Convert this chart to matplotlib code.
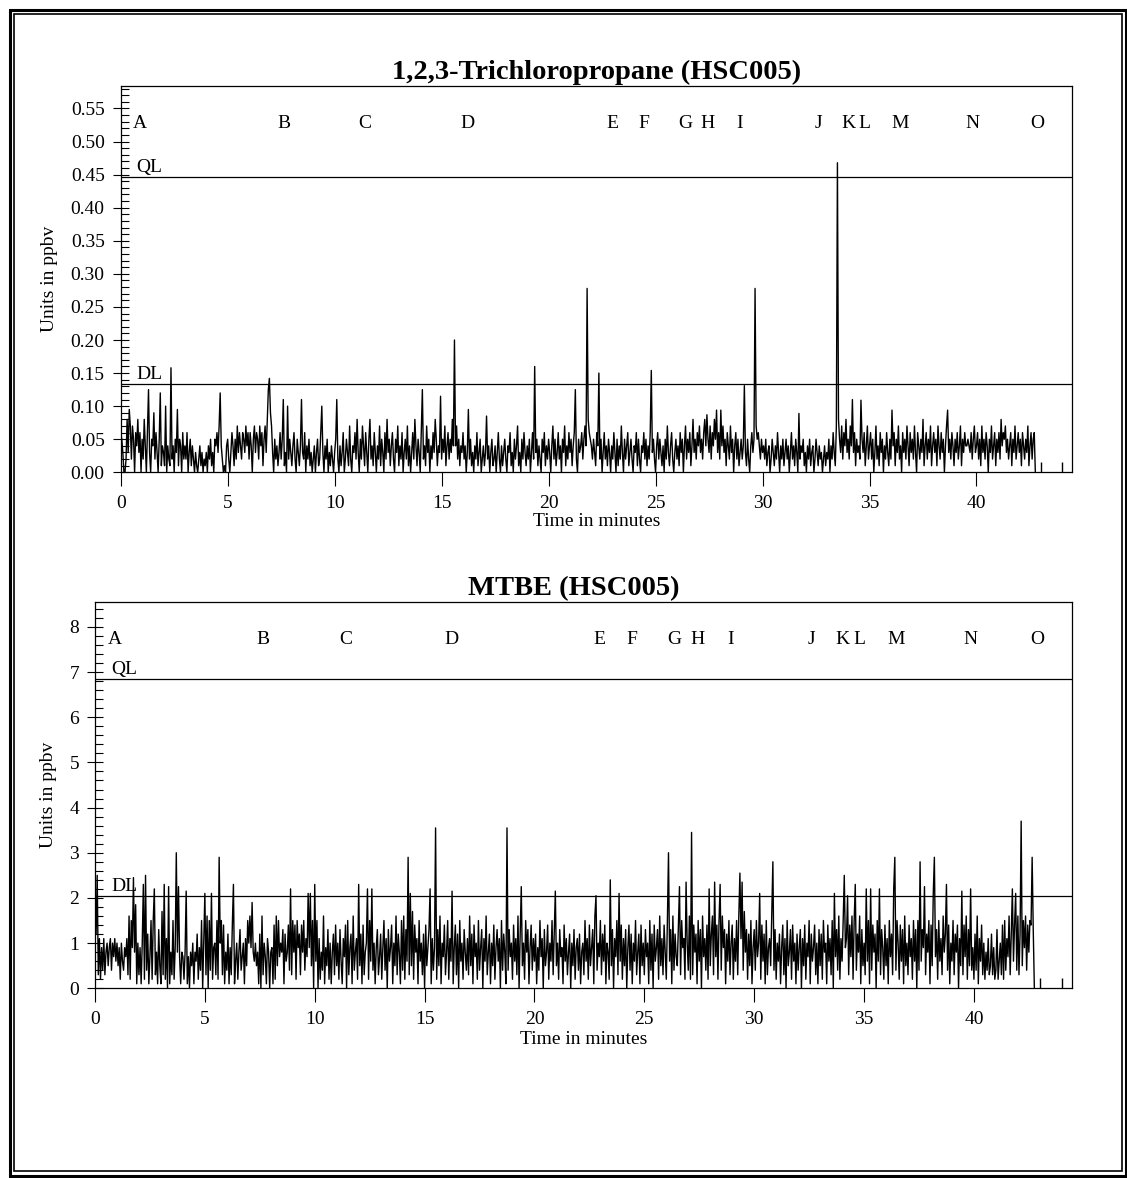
import numpy as np
import matplotlib.pyplot as plt
from matplotlib.patches import Rectangle
from matplotlib.ticker import MultipleLocator, FormatStrFormatter

plt.rcParams['font.family'] = 'Liberation Serif'

# sample spacing of both traces, minutes
DT = 0.05

# 1,2,3-Trichloropropane, ppbv, one row per minute (0.00 .. 0.95)
tcp_ppbv = [
    0.06, 0.05, 0.03, 0.00, 0.00, 0.02, 0.08, 0.03, 0.095, 0.07, 0.02, 0.07, 0.05, 0.00, 0.06, 0.04, 0.08, 0.03, 0.06, 0.00,
    0.05, 0.02, 0.08, 0.04, 0.00, 0.06, 0.125, 0.03, 0.00, 0.05, 0.04, 0.09, 0.02, 0.06, 0.03, 0.00, 0.05, 0.12, 0.01, 0.04,
    0.03, 0.01, 0.10, 0.00, 0.04, 0.02, 0.01, 0.158, 0.02, 0.04, 0.00, 0.05, 0.03, 0.095, 0.01, 0.05, 0.04, 0.00, 0.06, 0.02,
    0.04, 0.02, 0.06, 0.00, 0.03, 0.05, 0.01, 0.04, 0.02, 0.00, 0.03, 0.01, 0.00, 0.02, 0.04, 0.01, 0.03, 0.00, 0.02, 0.01,
    0.03, 0.00, 0.04, 0.02, 0.05, 0.01, 0.03, 0.00, 0.05, 0.04, 0.06, 0.03, 0.07, 0.12, 0.04, 0.02, 0.00, 0.01, 0.00, 0.04,
    0.05, 0.02, 0.00, 0.03, 0.06, 0.04, 0.01, 0.05, 0.02, 0.07, 0.03, 0.06, 0.04, 0.02, 0.06, 0.05, 0.03, 0.07, 0.04, 0.06,
    0.02, 0.06, 0.04, 0.00, 0.05, 0.07, 0.03, 0.06, 0.05, 0.02, 0.07, 0.04, 0.06, 0.01, 0.05, 0.07, 0.03, 0.08, 0.125, 0.142,
    0.09, 0.07, 0.03, 0.00, 0.05, 0.02, 0.04, 0.01, 0.03, 0.06, 0.02, 0.05, 0.11, 0.01, 0.03, 0.00, 0.10, 0.02, 0.05, 0.03,
    0.01, 0.04, 0.06, 0.02, 0.00, 0.05, 0.03, 0.01, 0.04, 0.11, 0.03, 0.02, 0.06, 0.00, 0.04, 0.02, 0.05, 0.01, 0.03, 0.00,
    0.02, 0.04, 0.00, 0.03, 0.05, 0.01, 0.02, 0.06, 0.10, 0.03, 0.00, 0.04, 0.02, 0.05, 0.00, 0.03, 0.01, 0.04, 0.02, 0.00,
    0.03, 0.05, 0.11, 0.02, 0.00, 0.04, 0.01, 0.03, 0.06, 0.00, 0.02, 0.05, 0.03, 0.01, 0.07, 0.02, 0.00, 0.04, 0.03, 0.06,
    0.02, 0.08, 0.03, 0.00, 0.05, 0.02, 0.07, 0.04, 0.01, 0.06, 0.03, 0.00, 0.05, 0.08, 0.02, 0.04, 0.01, 0.06, 0.03, 0.00,
    0.04, 0.02, 0.07, 0.01, 0.05, 0.03, 0.00, 0.06, 0.02, 0.08, 0.03, 0.05, 0.01, 0.04, 0.06, 0.02, 0.00, 0.05, 0.03, 0.07,
    0.01, 0.04, 0.02, 0.06, 0.00, 0.03, 0.05, 0.02, 0.07, 0.01, 0.04, 0.00, 0.03, 0.06, 0.02, 0.08, 0.04, 0.01, 0.05, 0.03,
    0.00, 0.06, 0.125, 0.02, 0.04, 0.01, 0.07, 0.03, 0.05, 0.00, 0.04, 0.02, 0.06, 0.03, 0.08, 0.05, 0.01, 0.04, 0.03, 0.115,
    0.02, 0.05, 0.03, 0.07, 0.01, 0.04, 0.06, 0.02, 0.05, 0.03, 0.08, 0.04, 0.20, 0.04, 0.07, 0.02, 0.05, 0.01, 0.04, 0.03,
    0.06, 0.02, 0.04, 0.00, 0.03, 0.095, 0.02, 0.05, 0.01, 0.03, 0.00, 0.04, 0.02, 0.06, 0.01, 0.03, 0.05, 0.00, 0.02, 0.04,
    0.01, 0.03, 0.085, 0.02, 0.04, 0.00, 0.03, 0.05, 0.01, 0.02, 0.04, 0.00, 0.03, 0.06, 0.02, 0.00, 0.04, 0.01, 0.03, 0.05,
    0.02, 0.00, 0.04, 0.03, 0.06, 0.01, 0.03, 0.00, 0.05, 0.02, 0.04, 0.07, 0.01, 0.03, 0.00, 0.05, 0.02, 0.06, 0.03, 0.01,
    0.04, 0.02, 0.05, 0.00, 0.03, 0.06, 0.02, 0.16, 0.03, 0.05, 0.01, 0.04, 0.02, 0.00, 0.05, 0.03, 0.06, 0.01, 0.04, 0.02,
    0.05, 0.03, 0.00, 0.04, 0.07, 0.02, 0.05, 0.01, 0.03, 0.06, 0.02, 0.04, 0.00, 0.05, 0.03, 0.07, 0.01, 0.04, 0.02, 0.06,
    0.03, 0.05, 0.01, 0.04, 0.06, 0.125, 0.02, 0.00, 0.05, 0.03, 0.04, 0.06, 0.02, 0.05, 0.07, 0.04, 0.278, 0.08, 0.06, 0.05,
    0.04, 0.02, 0.05, 0.03, 0.01, 0.06, 0.04, 0.15, 0.02, 0.05, 0.00, 0.03, 0.06, 0.02, 0.04, 0.01, 0.05, 0.03, 0.00, 0.04,
    0.02, 0.06, 0.03, 0.00, 0.05, 0.01, 0.04, 0.02, 0.07, 0.03, 0.00, 0.05, 0.02, 0.04, 0.06, 0.01, 0.03, 0.05, 0.02, 0.00,
    0.04, 0.03, 0.06, 0.01, 0.05, 0.02, 0.00, 0.04, 0.03, 0.06, 0.02, 0.05, 0.01, 0.04, 0.02, 0.06, 0.154, 0.03, 0.05, 0.02,
    0.00, 0.04, 0.06, 0.02, 0.05, 0.03, 0.01, 0.04, 0.00, 0.05, 0.02, 0.07, 0.03, 0.01, 0.04, 0.06, 0.02, 0.00, 0.03, 0.05,
    0.02, 0.04, 0.01, 0.06, 0.03, 0.05, 0.00, 0.04, 0.07, 0.02, 0.05, 0.03, 0.06, 0.01, 0.04, 0.08, 0.03, 0.05, 0.02, 0.06,
    0.04, 0.07, 0.03, 0.05, 0.02, 0.06, 0.08, 0.04, 0.087, 0.05, 0.03, 0.07, 0.02, 0.06, 0.04, 0.08, 0.05, 0.094, 0.03, 0.06,
    0.02, 0.094, 0.04, 0.07, 0.03, 0.05, 0.01, 0.06, 0.04, 0.02, 0.07, 0.03, 0.05, 0.00, 0.04, 0.06, 0.02, 0.05, 0.01, 0.03,
    0.05, 0.02, 0.04, 0.131, 0.03, 0.01, 0.05, 0.02, 0.00, 0.04, 0.06, 0.03, 0.05, 0.278, 0.07, 0.05, 0.06, 0.04, 0.02, 0.05,
    0.03, 0.04, 0.02, 0.05, 0.01, 0.03, 0.04, 0.00, 0.02, 0.05, 0.03, 0.01, 0.04, 0.02, 0.06, 0.03, 0.00, 0.04, 0.02, 0.05,
    0.01, 0.03, 0.05, 0.02, 0.04, 0.00, 0.03, 0.06, 0.02, 0.04, 0.01, 0.05, 0.03, 0.00, 0.089, 0.02, 0.04, 0.03, 0.05, 0.01,
    0.03, 0.00, 0.04, 0.02, 0.05, 0.01, 0.03, 0.04, 0.00, 0.02, 0.05, 0.03, 0.01, 0.04, 0.02, 0.03, 0.00, 0.02, 0.04, 0.01,
    0.03, 0.02, 0.05, 0.00, 0.04, 0.02, 0.06, 0.03, 0.01, 0.07, 0.468, 0.08, 0.05, 0.03, 0.07, 0.02, 0.06, 0.04, 0.08, 0.03,
    0.05, 0.02, 0.07, 0.04, 0.11, 0.03, 0.06, 0.01, 0.05, 0.03, 0.04, 0.02, 0.109, 0.05, 0.03, 0.06, 0.01, 0.04, 0.07, 0.02,
    0.04, 0.06, 0.02, 0.05, 0.00, 0.03, 0.07, 0.02, 0.04, 0.01, 0.06, 0.03, 0.05, 0.00, 0.04, 0.02, 0.06, 0.03, 0.01, 0.05,
    0.02, 0.094, 0.04, 0.06, 0.01, 0.05, 0.03, 0.07, 0.02, 0.04, 0.00, 0.06, 0.03, 0.05, 0.02, 0.07, 0.04, 0.01, 0.06, 0.03,
    0.05, 0.02, 0.07, 0.03, 0.00, 0.06, 0.04, 0.02, 0.05, 0.03, 0.08, 0.01, 0.04, 0.06, 0.02, 0.05, 0.03, 0.07, 0.01, 0.04,
    0.06, 0.03, 0.05, 0.01, 0.07, 0.04, 0.02, 0.06, 0.03, 0.05, 0.00, 0.04, 0.07, 0.094, 0.03, 0.05, 0.02, 0.06, 0.04, 0.01,
    0.05, 0.03, 0.06, 0.02, 0.04, 0.07, 0.01, 0.05, 0.03, 0.06, 0.04, 0.04, 0.05, 0.04, 0.03, 0.06, 0.02, 0.05, 0.07, 0.03,
    0.04, 0.06, 0.02, 0.05, 0.01, 0.07, 0.03, 0.05, 0.02, 0.06, 0.04, 0.00, 0.05, 0.03, 0.07, 0.02, 0.04, 0.06, 0.01, 0.05,
    0.03, 0.06, 0.02, 0.08, 0.04, 0.06, 0.05, 0.07, 0.03, 0.05, 0.02, 0.04, 0.06, 0.01, 0.05, 0.03, 0.07, 0.02, 0.04, 0.06,
    0.03, 0.05, 0.01, 0.06, 0.04, 0.02, 0.05, 0.03, 0.07, 0.01, 0.04, 0.06, 0.02, 0.05, 0.06, 0.00,
]
tcp_blip_min = [43.0, 44.0]
tcp_blip_ppbv = [0.015, 0.015]

# MTBE, ppbv, one row per minute
mtbe_ppbv = [
    1.6, 1.2, 2.5, 0.3, 1.1, 0.2, 0.9, 0.4, 1.1, 0.3, 0.8, 1.0, 0.5, 0.9, 1.1, 0.4, 1.0, 0.7, 1.1, 0.6,
    1.0, 0.5, 0.9, 0.2, 1.0, 0.6, 0.4, 0.9, 0.7, 1.1, 0.3, 1.6, 0.2, 1.5, 0.9, 2.45, 0.8, 1.85, 0.1, 1.0,
    0.3, 0.9, 0.1, 1.0, 2.3, 0.2, 2.5, 0.4, 1.2, 0.1, 0.7, 1.5, 0.2, 1.5, 2.2, 0.3, 0.8, 0.1, 1.3, 0.5,
    0.1, 1.7, 0.3, 2.3, 0.2, 1.1, 0.0, 2.25, 0.1, 0.8, 0.3, 1.5, 0.2, 0.9, 3.0, 0.8, 2.25, 0.7, 0.1, 0.8,
    0.7, 0.2, 0.8, 2.15, 0.1, 0.7, 0.0, 0.8, 0.5, 1.0, 0.1, 0.8, 0.6, 1.2, 0.2, 0.9, 0.4, 1.5, 0.0, 1.0,
    2.1, 0.3, 1.6, 0.0, 1.5, 0.4, 2.1, 0.2, 0.9, 1.0, 0.3, 1.5, 0.2, 2.9, 1.0, 1.5, 0.3, 1.4, 0.1, 0.8,
    0.4, 1.2, 0.1, 0.9, 0.3, 1.4, 2.3, 0.1, 0.6, 1.0, 0.2, 0.8, 1.3, 0.4, 0.7, 1.0, 0.1, 1.1, 0.5, 1.5,
    1.0, 1.6, 0.9, 1.9, 0.8, 0.6, 1.0, 0.5, 0.8, 0.1, 1.2, 0.0, 1.6, 0.3, 1.0, 0.7, 0.1, 1.1, 0.8, 0.0,
    0.8, 0.9, 0.1, 1.4, 0.2, 1.6, 0.5, 1.5, 0.7, 1.0, 0.8, 1.3, 0.1, 1.2, 0.6, 0.8, 1.4, 0.4, 2.2, 0.3,
    1.5, 0.8, 1.4, 0.2, 1.5, 0.9, 1.2, 0.3, 1.4, 0.8, 1.5, 0.4, 1.1, 0.7, 2.1, 0.9, 2.1, 0.5, 1.5, 0.0,
    2.3, 0.6, 1.5, 0.0, 1.1, 0.2, 0.8, 0.4, 1.6, 0.1, 0.9, 0.5, 1.3, 0.2, 1.0, 0.1, 0.8, 1.2, 0.3, 1.4,
    0.5, 1.0, 0.2, 1.3, 0.6, 0.1, 1.1, 0.7, 1.4, 0.0, 1.5, 0.3, 0.9, 1.2, 0.1, 1.6, 0.4, 0.8, 1.1, 0.2,
    2.3, 0.5, 1.2, 0.1, 1.4, 0.3, 0.8, 1.0, 2.2, 0.2, 1.5, 0.6, 2.2, 0.4, 1.0, 0.1, 0.9, 1.3, 0.3, 0.7,
    1.2, 0.2, 0.9, 1.5, 0.4, 1.1, 0.0, 1.3, 0.6, 0.9, 1.4, 0.1, 1.0, 0.5, 1.6, 0.3, 1.2, 0.8, 0.1, 1.5,
    0.4, 1.6, 0.2, 1.3, 0.6, 2.9, 0.3, 2.1, 0.5, 1.7, 0.2, 1.4, 0.8, 1.1, 0.1, 1.5, 0.6, 1.0, 0.3, 1.2,
    0.0, 1.4, 0.5, 0.9, 1.3, 2.2, 0.1, 1.1, 0.4, 0.9, 3.55, 0.2, 1.3, 0.5, 1.6, 0.1, 1.0, 0.7, 1.4, 0.3,
    0.8, 1.5, 0.2, 1.1, 0.6, 2.15, 0.1, 0.9, 1.4, 0.3, 1.2, 0.0, 1.5, 0.6, 1.0, 0.2, 1.3, 0.8, 0.4, 1.1,
    0.3, 1.6, 0.5, 1.2, 0.1, 1.4, 0.7, 1.0, 0.2, 1.5, 0.4, 0.9, 1.3, 0.0, 1.1, 0.6, 1.6, 0.3, 0.8, 1.2,
    0.1, 1.0, 0.5, 1.4, 0.2, 0.9, 1.3, 0.6, 1.1, 0.0, 1.5, 0.4, 1.2, 0.8, 0.1, 3.55, 0.4, 1.3, 0.7, 1.0,
    0.2, 1.4, 0.6, 1.1, 0.3, 1.6, 0.0, 1.2, 2.25, 0.5, 1.0, 0.2, 1.5, 0.8, 1.3, 0.1, 0.9, 1.4, 0.4, 1.1,
    0.6, 1.2, 0.1, 0.9, 0.4, 1.5, 0.7, 1.1, 0.0, 1.3, 0.5, 0.8, 1.4, 0.2, 1.0, 0.6, 1.5, 0.3, 1.2, 2.15,
    0.5, 1.0, 0.2, 1.3, 0.7, 0.9, 0.1, 1.4, 0.6, 1.1, 0.3, 0.8, 1.2, 0.0, 1.0, 0.5, 1.3, 0.2, 0.9, 1.1,
    0.4, 1.2, 0.1, 0.8, 1.0, 0.3, 1.5, 0.6, 1.1, 0.2, 1.4, 0.5, 0.9, 1.3, 0.1, 1.6, 2.05, 0.4, 1.0, 0.7,
    1.5, 0.3, 1.2, 0.6, 1.4, 0.1, 1.0, 0.8, 0.2, 2.4, 0.5, 1.3, 0.0, 1.1, 0.7, 1.5, 0.3, 2.1, 0.6, 1.4,
    0.2, 1.1, 0.5, 1.3, 0.0, 0.9, 1.4, 0.4, 1.2, 0.1, 1.0, 0.6, 1.5, 0.3, 0.8, 1.2, 0.1, 1.4, 0.5, 1.0,
    0.3, 1.3, 0.7, 1.0, 0.1, 1.5, 0.4, 1.2, 0.0, 1.4, 0.6, 0.9, 1.3, 0.2, 1.6, 0.5, 1.1, 0.3, 1.4, 0.8,
    0.2, 1.5, 3.0, 0.6, 1.3, 0.1, 1.6, 0.4, 1.2, 0.7, 0.5, 1.4, 2.25, 0.3, 1.5, 0.9, 1.1, 0.2, 2.35, 1.0,
    0.4, 1.6, 0.2, 3.45, 0.3, 1.4, 0.8, 1.2, 0.1, 1.5, 0.6, 1.3, 0.0, 1.6, 0.7, 1.1, 0.4, 1.4, 0.2, 2.2,
    0.5, 1.2, 1.6, 0.3, 2.35, 0.7, 1.4, 0.2, 1.5, 2.3, 0.4, 1.6, 0.9, 1.3, 0.1, 1.2, 0.6, 1.5, 0.3, 1.0,
    1.4, 0.2, 1.1, 0.6, 1.5, 0.3, 1.6, 2.55, 1.1, 2.35, 0.4, 1.7, 0.8, 1.3, 0.2, 1.2, 0.5, 1.5, 0.1, 0.9,
    1.3, 0.4, 1.5, 0.7, 1.0, 2.1, 0.2, 1.4, 0.6, 1.2, 0.1, 1.5, 0.3, 0.9, 1.1, 0.5, 1.6, 2.8, 0.4, 1.3,
    0.2, 1.0, 0.6, 1.2, 0.1, 0.9, 1.4, 0.3, 1.1, 0.0, 1.5, 0.5, 0.8, 1.3, 0.2, 1.4, 0.6, 1.0, 0.1, 1.2,
    0.4, 0.9, 1.3, 0.0, 1.1, 0.5, 1.4, 0.2, 1.0, 0.7, 1.5, 0.1, 1.2, 0.6, 0.9, 1.4, 0.3, 1.0, 0.1, 1.3,
    0.5, 1.2, 0.2, 1.5, 0.8, 1.0, 0.1, 1.4, 0.6, 1.1, 0.3, 1.5, 0.0, 2.1, 0.7, 1.3, 0.4, 1.6, 0.2, 1.1,
    0.6, 1.5, 2.5, 0.9, 1.1, 2.05, 0.3, 1.4, 0.7, 1.6, 0.2, 1.5, 2.3, 0.4, 1.2, 0.8, 1.6, 0.1, 1.3, 0.5,
    1.0, 0.3, 2.2, 0.6, 1.5, 0.1, 2.2, 0.4, 1.4, 0.8, 1.2, 0.0, 1.5, 0.6, 2.2, 0.3, 1.3, 0.9, 0.2, 1.4,
    0.5, 1.1, 0.1, 1.5, 0.7, 1.2, 0.3, 2.2, 2.9, 0.4, 1.5, 1.0, 0.2, 1.4, 0.6, 1.3, 0.1, 1.6, 0.5, 1.0,
    0.3, 1.4, 0.7, 1.1, 0.2, 1.5, 0.6, 1.3, 0.0, 1.5, 0.4, 2.8, 0.6, 1.3, 0.9, 2.25, 0.3, 1.2, 0.8, 1.5,
    0.1, 1.4, 0.5, 2.1, 2.9, 0.7, 1.3, 0.2, 1.5, 0.6, 1.1, 0.3, 1.6, 0.8, 1.2, 2.3, 0.4, 1.4, 0.1, 1.0,
    0.6, 1.5, 0.3, 1.2, 0.8, 1.4, 0.0, 1.1, 0.5, 2.15, 0.3, 1.4, 0.7, 1.6, 0.2, 1.3, 0.5, 2.2, 0.4, 0.9,
    0.2, 1.2, 0.4, 1.6, 0.1, 1.1, 0.6, 1.4, 0.3, 1.0, 0.2, 0.8, 0.4, 1.1, 0.3, 0.5, 1.2, 0.3, 0.9, 0.2,
    0.4, 1.3, 0.2, 0.6, 1.0, 0.3, 1.4, 0.2, 1.5, 0.4, 1.1, 0.7, 1.6, 0.3, 1.2, 2.2, 0.6, 1.4, 2.1, 0.4,
    1.6, 0.3, 1.2, 3.7, 0.5, 1.5, 0.9, 1.6, 0.4, 1.4, 0.8, 1.5, 1.4, 2.9, 1.3, 0.0,
]
mtbe_blip_min = [43.0, 44.0]
mtbe_blip_ppbv = [0.22, 0.22]

# run markers along the top of each panel
peak_labels = ['A', 'B', 'C', 'D', 'E', 'F', 'G', 'H', 'I', 'J', 'K', 'L', 'M', 'N', 'O']
peak_min = [0.9, 7.65, 11.42, 16.2, 22.97, 24.45, 26.38, 27.44, 28.94,
            32.6, 34.0, 34.78, 36.45, 39.82, 42.86]

tcp_ql, tcp_dl = 0.447, 0.134
mtbe_ql, mtbe_dl = 6.85, 2.05

W, H = 1127, 1178
FS = 14
fig = plt.figure(figsize=(W / 100, H / 100), dpi=100)


def px_axes(left, top, right, bottom):
    return fig.add_axes([left / W, 1 - bottom / H, (right - left) / W, (bottom - top) / H])


def draw_panel(ax, values, blip_t, blip_v, title, ql, dl, ymax, major, minor, fmt,
               letter_y, title_x, ylab_x, xlab_y):
    t = np.arange(len(values)) * DT
    ax.plot(t, values, color='black', lw=1.0)
    ax.vlines(blip_t, 0, blip_v, color='black', lw=1.0)
    ax.axhline(ql, color='black', lw=0.9)
    ax.axhline(dl, color='black', lw=0.9)
    ax.annotate('QL', (0.75, ql), xytext=(0, 0.5), textcoords='offset points',
                fontsize=FS, va='bottom', ha='left')
    ax.annotate('DL', (0.75, dl), xytext=(0, 0.5), textcoords='offset points',
                fontsize=FS, va='bottom', ha='left')
    for lab, tm in zip(peak_labels, peak_min):
        ax.text(tm, letter_y, lab, fontsize=FS, ha='center', va='center')

    ax.set_xlim(0, 44.45)
    ax.set_ylim(0, ymax)
    ax.xaxis.set_major_locator(MultipleLocator(5))
    ax.yaxis.set_major_locator(MultipleLocator(major))
    ax.yaxis.set_minor_locator(MultipleLocator(minor))
    ax.yaxis.set_major_formatter(FormatStrFormatter(fmt))
    ax.tick_params(axis='y', which='major', direction='inout', length=12, width=0.8,
                   pad=5.5, labelsize=FS)
    ax.tick_params(axis='y', which='minor', direction='in', length=5.5, width=0.8)
    ax.tick_params(axis='x', which='major', direction='out', length=10, width=0.8,
                   pad=6.5, labelsize=FS)
    for sp in ax.spines.values():
        sp.set_linewidth(0.9)

    ax.set_title(title, fontsize=20.5, fontweight='bold', pad=5, x=title_x)
    ax.set_ylabel('Units in ppbv', fontsize=FS)
    ax.set_xlabel('Time in minutes', fontsize=FS)
    ax.yaxis.set_label_coords(ylab_x, 0.5)
    ax.xaxis.set_label_coords(0.5, xlab_y)


ax1 = px_axes(120.7, 86, 1071.7, 472.3)
draw_panel(ax1, tcp_ppbv, tcp_blip_min, tcp_blip_ppbv, '1,2,3-Trichloropropane (HSC005)',
           tcp_ql, tcp_dl, 0.584, 0.05, 0.01, '%.2f', 0.528, 0.5, -0.066, -0.105)

ax2 = px_axes(95, 602, 1071.7, 988.3)
draw_panel(ax2, mtbe_ppbv, mtbe_blip_min, mtbe_blip_ppbv, 'MTBE (HSC005)',
           mtbe_ql, mtbe_dl, 8.55, 1, 0.2, '%d', 7.72, 0.49, -0.039, -0.11)

# double border round the whole page
outer = Rectangle((9.5 / W, 1 - 1175.5 / H), (1125.5 - 9.5) / W, (1175.5 - 9.5) / H,
                  transform=fig.transFigure, fill=False, ec='black', lw=2.2)
inner = Rectangle((14 / W, 1 - 1171 / H), (1121.5 - 14) / W, (1171 - 14) / H,
                  transform=fig.transFigure, fill=False, ec='black', lw=1.2)
fig.patches.extend([outer, inner])

fig.savefig('out.png', dpi=100)
